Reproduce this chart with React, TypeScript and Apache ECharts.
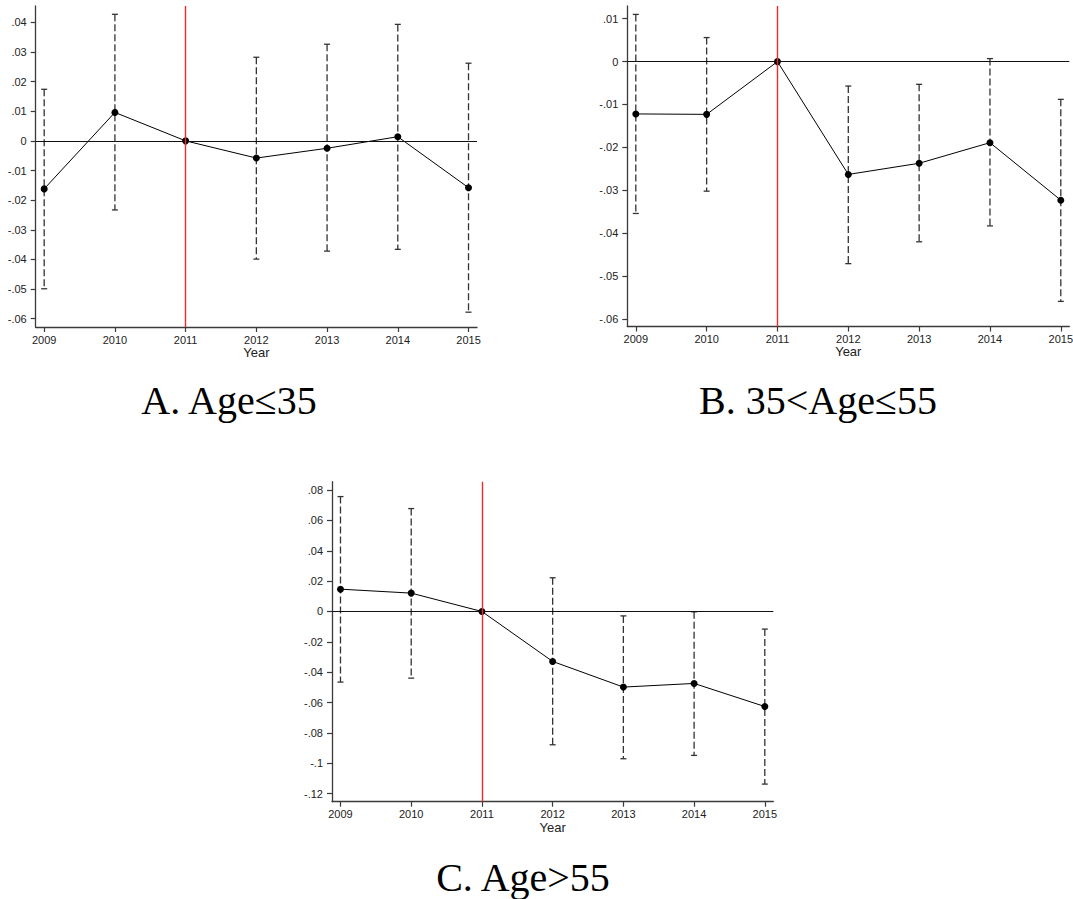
import React, { useEffect, useRef } from "react";
import * as echarts from "echarts";

const years = [2009, 2010, 2011, 2012, 2013, 2014, 2015];

const coefA = [-0.0162, 0.0096, 0, -0.0058, -0.0025, 0.0014, -0.0158];
const lowA = [-0.0499, -0.0233, null, -0.0399, -0.0372, -0.0366, -0.0578];
const highA = [0.0174, 0.0427, null, 0.0282, 0.0326, 0.0393, 0.0262];

const coefB = [-0.0122, -0.0123, 0, -0.0263, -0.0237, -0.0189, -0.0323];
const lowB = [-0.0354, -0.0302, null, -0.0471, -0.042, -0.0383, -0.0559];
const highB = [0.011, 0.0056, null, -0.0057, -0.0053, 0.0007, -0.0088];

const coefC = [0.0147, 0.0121, 0, -0.0329, -0.0498, -0.0474, -0.0626];
const lowC = [-0.0465, -0.0439, null, -0.0878, -0.097, -0.0948, -0.1137];
const highC = [0.0757, 0.0678, null, 0.0222, -0.0029, -0.0002, -0.0116];

const yTicksA = [-0.06, -0.05, -0.04, -0.03, -0.02, -0.01, 0, 0.01, 0.02, 0.03, 0.04];
const yTicksB = [-0.06, -0.05, -0.04, -0.03, -0.02, -0.01, 0, 0.01];
const yTicksC = [-0.12, -0.1, -0.08, -0.06, -0.04, -0.02, 0, 0.02, 0.04, 0.06, 0.08];

const titleA = "A. Age≤35";
const titleB = "B. 35<Age≤55";
const titleC = "C. Age>55";
const xName = "Year";
const eventYear = 2011;

const fmtY = (v: number) => {
  if (Math.abs(v) < 1e-9) return "0";
  const s = Number(Math.abs(v).toFixed(3)).toString().replace(/^0/, "");
  return (v < 0 ? "-" : "") + s;
};

const AXIS_COLOR = "#3a3a3a";
const SANS = "Liberation Sans";

export default function App() {
  const ref = useRef<HTMLDivElement>(null);
  useEffect(() => {
    document.body.style.margin = "0";
    const chart = echarts.init(ref.current!, null, { renderer: "svg" });

    const panels = [
      { grid: { left: 35.7, top: 6, width: 441.3, height: 321 }, ymin: -0.0628, ymax: 0.0455, ticks: yTicksA, coef: coefA, low: lowA, high: highA },
      { grid: { left: 627.3, top: 6, width: 442, height: 320.5 }, ymin: -0.06175, ymax: 0.01296, ticks: yTicksB, coef: coefB, low: lowB, high: highB },
      { grid: { left: 332, top: 481.7, width: 441.3, height: 320 }, ymin: -0.1253, ymax: 0.0855, ticks: yTicksC, coef: coefC, low: lowC, high: highC },
    ];

    const grids: any[] = [];
    const xAxes: any[] = [];
    const yAxes: any[] = [];
    const series: any[] = [];

    panels.forEach((p, i) => {
      grids.push({ ...p.grid, containLabel: false, outerBoundsMode: "none" });
      xAxes.push({
        type: "value",
        gridIndex: i,
        min: 2008.88,
        max: 2015.12,
        name: xName,
        nameLocation: "middle",
        nameGap: 17,
        nameTextStyle: { fontFamily: SANS, fontSize: 13, color: "#222" },
        axisLine: { onZero: false, lineStyle: { color: AXIS_COLOR, width: 1.3 } },
        axisTick: { show: true, length: 5, customValues: years, lineStyle: { color: AXIS_COLOR, width: 1.2 } },
        axisLabel: { customValues: years, formatter: (v: number) => String(v), fontFamily: SANS, fontSize: 11, color: "#222", margin: 7 },
        splitLine: { show: false },
      });
      yAxes.push({
        type: "value",
        gridIndex: i,
        min: p.ymin,
        max: p.ymax,
        axisLine: { show: true, onZero: false, lineStyle: { color: AXIS_COLOR, width: 1.3 } },
        axisTick: { show: true, length: 5, customValues: p.ticks, lineStyle: { color: AXIS_COLOR, width: 1.2 } },
        axisLabel: { customValues: p.ticks, formatter: fmtY, fontFamily: SANS, fontSize: 11, color: "#222", margin: 9 },
        splitLine: { show: false },
      });
      // reference lines
      series.push({
        type: "line",
        xAxisIndex: i,
        yAxisIndex: i,
        data: [],
        z: 1,
        silent: true,
        markLine: {
          silent: true,
          symbol: "none",
          label: { show: false },
          animation: false,
          data: [
            { yAxis: 0, lineStyle: { color: "#111", width: 1.2, type: "solid" } },
            { xAxis: eventYear, lineStyle: { color: "#ee2a2a", width: 1.4, type: "solid" } },
          ],
        },
      });
      // error bars
      const ci = years
        .map((y, k) => [y, p.low[k], p.high[k]])
        .filter((d) => d[1] !== null && d[2] !== null);
      series.push({
        type: "custom",
        xAxisIndex: i,
        yAxisIndex: i,
        z: 2,
        data: ci,
        renderItem: (params: any, api: any) => {
          const x = api.value(0);
          const pLo = api.coord([x, api.value(1)]);
          const pHi = api.coord([x, api.value(2)]);
          const st = { stroke: "#333", lineWidth: 1.3 };
          return {
            type: "group",
            children: [
              { type: "line", shape: { x1: pHi[0], y1: pHi[1], x2: pLo[0], y2: pLo[1] }, style: { ...st, lineDash: [7, 3] } },
              { type: "line", shape: { x1: pHi[0] - 3, y1: pHi[1], x2: pHi[0] + 3, y2: pHi[1] }, style: st },
              { type: "line", shape: { x1: pLo[0] - 3, y1: pLo[1], x2: pLo[0] + 3, y2: pLo[1] }, style: st },
            ],
          };
        },
      });
      // point estimates
      series.push({
        type: "line",
        xAxisIndex: i,
        yAxisIndex: i,
        z: 3,
        data: years.map((y, k) => [y, p.coef[k]]),
        symbol: "circle",
        symbolSize: 7,
        showAllSymbol: true,
        itemStyle: { color: "#000" },
        lineStyle: { color: "#000", width: 1 },
      });
    });

    const titleStyle = { fontFamily: "Liberation Serif", fontSize: 40, fill: "#000", textAlign: "center", textVerticalAlign: "middle" };

    chart.setOption({
      animation: false,
      backgroundColor: "#fff",
      grid: grids,
      xAxis: xAxes,
      yAxis: yAxes,
      series,
      graphic: [
        { type: "text", x: 229, y: 400, style: { ...titleStyle, text: titleA } },
        { type: "text", x: 818, y: 400, style: { ...titleStyle, text: titleB } },
        { type: "text", x: 523, y: 877, style: { ...titleStyle, text: titleC } },
      ],
    });
    return () => chart.dispose();
  }, []);
  return <div ref={ref} style={{ width: 1073, height: 899 }} />;
}
